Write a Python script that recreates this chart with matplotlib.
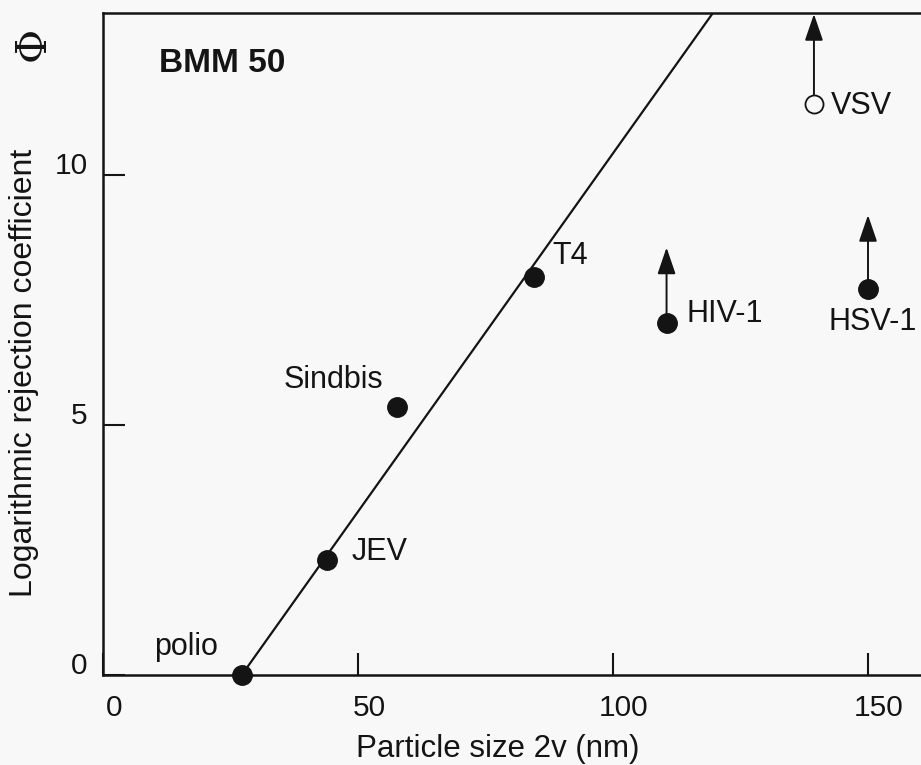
import numpy as np
import matplotlib
matplotlib.use("Agg")
import matplotlib.pyplot as plt
from matplotlib.transforms import ScaledTranslation

# virus particle size (nm) against log rejection, BMM 50 membrane
names = ["polio", "JEV", "Sindbis", "T4", "HIV-1", "HSV-1", "VSV"]
size = [27.2, 44.0, 57.7, 84.6, 110.5, 150.0, 139.4]
lrv = [0.0, 2.3, 5.37, 7.96, 7.05, 7.73, 11.43]
filled = [True, True, True, True, True, True, False]

# only a lower bound is known for these: arrow up to the value
lower = ["HIV-1", "HSV-1", "VSV"]
arrow_top = [8.55, 9.2, 13.22]

# fitted line through the small viruses
fit_x = [27.2, 120.0]
fit_y = [0.0, 13.3]

xticks = [0, 50, 100, 150]
yticks = [0, 5, 10]

# where each name sits relative to its dot (pixels)
lab_off = {"polio": (-88, 20), "JEV": (24, 0), "Sindbis": (-114, 18), "T4": (18, 13),
           "HIV-1": (20, 0), "HSV-1": (-40, -42), "VSV": (17, -10)}

ink = "#141414"
bg = "#f8f8f9"
plt.rcParams["font.family"] = ["Liberation Sans", "DejaVu Sans"]

fig = plt.figure(figsize=(9.21, 7.65), dpi=100, facecolor=bg)
ax = fig.add_axes([103/921, 90/765, 841.5/921, 662.5/765], facecolor=bg)
ax.set_xlim(0, 165)
ax.set_ylim(0, 13.25)

ax.plot(fit_x, fit_y, color=ink, lw=1.6, zorder=2)

for n, x, y, f in zip(names, size, lrv, filled):
    if f:
        ax.plot(x, y, "o", ms=14, color=ink, zorder=4, clip_on=False)
    else:
        ax.plot(x, y, "o", ms=13, mfc=bg, mec=ink, mew=1.3, zorder=4, clip_on=False)
    ax.annotate(n, (x, y), xytext=lab_off[n], textcoords="offset pixels",
                ha="left", va="baseline", fontsize=22, color=ink)

for n, top in zip(lower, arrow_top):
    i = names.index(n)
    ax.annotate("", xy=(size[i], top), xytext=(size[i], lrv[i]),
                arrowprops=dict(arrowstyle="-|>,head_length=0.82,head_width=0.28",
                                mutation_scale=20, lw=1.4, color=ink,
                                shrinkA=6.5, shrinkB=0), zorder=3)

ax.text(11, 12.05, "BMM 50", fontsize=24, fontweight="bold", color=ink)

ax.spines["right"].set_visible(False)
for s in ["left", "bottom", "top"]:
    ax.spines[s].set_linewidth(1.8)
    ax.spines[s].set_color(ink)

ax.set_xticks(xticks)
ax.set_yticks(yticks)
ax.tick_params(direction="in", length=16, width=1.5, colors=ink, labelsize=21.5)
ax.tick_params(axis="x", pad=14)
ax.tick_params(axis="y", pad=11)
ax.tick_params(top=False, right=False)

for t in ax.get_xticklabels():
    t.set_transform(t.get_transform() + ScaledTranslation(0.11, 0, fig.dpi_scale_trans))
for t in ax.get_yticklabels():
    t.set_transform(t.get_transform() + ScaledTranslation(0, 0.12, fig.dpi_scale_trans))

fig.text(498/921, 8/765, "Particle size 2v (nm)", ha="center", va="baseline",
         fontsize=22.5, color=ink)
fig.text(24/921, 1 - 373/765, "Logarithmic rejection coefficient", rotation=90,
         ha="center", va="center", fontsize=23, color=ink)
fig.text(33/921, 1 - 44/765, "Φ", rotation=90, ha="center", va="center",
         fontsize=30, family="DejaVu Serif", color=ink)

plt.savefig("out.png", dpi=100, facecolor=bg)
plt.close()
